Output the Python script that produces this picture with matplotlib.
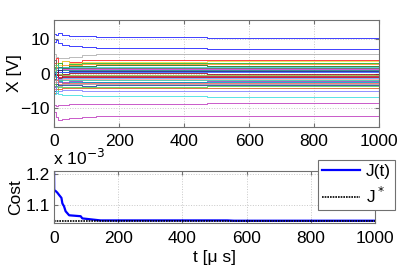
import matplotlib as mpl
mpl.use('Agg')
from matplotlib import pyplot as plt
import numpy as np

plt.rcParams['font.family'] = ['Liberation Sans', 'DejaVu Sans']

#knot times [us] for the state traces, value held until next knot
t_knots = [0, 5, 12, 25, 45, 85, 130, 470, 540, 1000]

#state traces X [V] at each knot (last value repeated at t=1000)
x_traces = [
    [11.5, 11.0, 11.8, 11.2, 10.9, 10.8, 10.5, 10.2, 10.1, 10.1],
    [9.2, 9.6, 8.8, 8.3, 7.8, 7.6, 7.3, 7.2, 7.2, 7.2],
    [5.5, 4.8, 4.5, 4.6, 4.9, 5.2, 5.5, 5.5, 5.5, 5.5],
    [3.0, 4.5, 2.0, 3.5, 3.2, 3.8, 3.9, 3.9, 3.9, 3.9],
    [1.0, 3.0, 2.5, 3.5, 3.0, 3.2, 3.4, 3.5, 3.5, 3.5],
    [2.0, -1.0, 3.0, 1.5, 2.8, 3.0, 3.0, 3.0, 3.0, 3.0],
    [-1.0, 2.0, 1.0, 2.5, 2.5, 2.6, 2.7, 2.7, 2.7, 2.7],
    [0.5, 1.5, -2.0, 2.0, 2.2, 2.3, 2.4, 2.3, 2.3, 2.3],
    [-2.0, 2.5, 1.5, 1.8, 2.0, 2.0, 2.0, 2.0, 2.0, 2.0],
    [4.0, 1.0, 0.5, 1.5, 1.6, 1.7, 1.7, 1.6, 1.6, 1.6],
    [-3.0, 1.5, 0.5, 1.2, 1.3, 1.4, 1.4, 1.3, 1.3, 1.3],
    [1.5, -0.5, 2.0, 1.0, 1.0, 1.1, 1.0, 1.0, 1.0, 1.0],
    [0.0, 0.5, 1.0, 0.5, 0.7, 0.8, 0.8, 0.7, 0.7, 0.7],
    [0.2, -1.0, 0.3, 0.4, 0.4, 0.4, 0.4, 0.4, 0.4, 0.4],
    [-0.5, 0.5, -0.5, 0.0, 0.1, 0.1, 0.1, 0.0, 0.0, 0.0],
    [2.5, -2.0, -0.2, -0.3, -0.3, -0.3, -0.3, -0.3, -0.3, -0.3],
    [-1.5, 0.0, -1.0, -0.6, -0.7, -0.7, -0.7, -0.7, -0.7, -0.7],
    [-4.0, -0.5, -1.2, -1.0, -1.0, -1.0, -1.0, -1.0, -1.0, -1.0],
    [0.8, -2.5, -1.5, -1.3, -1.4, -1.4, -1.4, -1.3, -1.3, -1.3],
    [-2.5, -1.5, -2.0, -1.7, -1.7, -1.7, -1.6, -1.6, -1.6, -1.6],
    [1.2, -3.0, -2.0, -2.0, -2.0, -2.0, -2.0, -1.9, -1.9, -1.9],
    [-3.5, -1.0, -2.5, -2.3, -2.2, -2.3, -2.3, -2.2, -2.2, -2.2],
    [-0.8, -3.5, -2.2, -2.6, -2.5, -2.5, -2.5, -2.5, -2.5, -2.5],
    [-4.5, -2.0, -3.0, -2.8, -2.8, -2.8, -2.8, -2.8, -2.8, -2.8],
    [-2.0, -4.0, -3.5, -3.1, -3.1, -3.1, -3.1, -3.1, -3.1, -3.1],
    [-5.0, -3.0, -3.2, -3.4, -3.4, -3.5, -3.4, -3.4, -3.4, -3.4],
    [-3.0, -5.0, -4.0, -3.8, -3.8, -3.8, -3.8, -3.7, -3.7, -3.7],
    [-5.5, -4.5, -4.5, -4.2, -4.3, -4.3, -4.3, -4.3, -4.3, -4.3],
    [-4.0, -5.5, -5.0, -4.8, -4.8, -4.9, -4.9, -4.9, -4.9, -4.9],
    [-6.0, -5.0, -6.0, -6.2, -6.3, -6.5, -6.6, -6.7, -6.7, -6.7],
    [-9.0, -9.5, -9.2, -9.0, -8.9, -8.8, -8.7, -8.6, -8.6, -8.6],
    [-11.0, -12.5, -13.4, -13.0, -12.8, -12.5, -12.3, -12.2, -12.2, -12.2],
]
x_colors = ['#2020ff', '#2020ff', '#b0b0b0', '#ff2020', '#e8e040', '#20b020',
            '#ff9020', '#207020', '#30d0d0', '#606060', '#d040d0', '#208080',
            '#101090', '#3060ff', '#a01020', '#80c040', '#c01030', '#b00020',
            '#60a0ff', '#ffa0a0', '#40c0a0', '#9040c0', '#00a0c0', '#ff6060',
            '#a0a0a0', '#2040a0', '#50d050', '#e06020', '#8080ff', '#40e0e0',
            '#c040c0', '#c040c0']

#cost J(t) [x 1e-3] knots and optimum J*
t_cost = [0, 0.5, 5, 10, 16, 23, 26, 31, 36, 47, 83, 88, 114, 145, 540, 560, 1000]
j_cost = [1.21, 1.148, 1.145, 1.14, 1.132, 1.123, 1.105, 1.096, 1.080, 1.067,
          1.064, 1.057, 1.054, 1.0505, 1.0505, 1.0495, 1.0495]
j_star = 1.049

fig = plt.figure(figsize=(4.19, 2.70), dpi=100)
fs = 12.5
gridkw = dict(color='#c8c8c8', ls=':', lw=0.7)

def style_axes(ax, pad):
    ax.tick_params(direction='in', top=True, right=True, labelsize=fs,
                   length=3, color='#707070')
    ax.tick_params(axis='x', pad=pad)
    ax.tick_params(axis='y', pad=3)
    for s in ax.spines.values():
        s.set_color('#707070')
        s.set_linewidth(0.8)
    ax.grid(True, **gridkw)

#top: state trajectories
ax1 = fig.add_axes([0.129, 0.531, 0.776, 0.396])
for vals, c in zip(x_traces, x_colors):
    ax1.step(t_knots, vals, where='post', color=c, lw=0.6)
ax1.set_xlim(0, 1000)
ax1.set_ylim(-15.3, 15.5)
ax1.set_xticks([0, 200, 400, 600, 800, 1000])
ax1.set_yticks([-10, 0, 10])
ax1.set_ylabel('X [V]', fontsize=fs, labelpad=-1)
style_axes(ax1, 5.5)

#bottom: cost
ax2 = fig.add_axes([0.129, 0.175, 0.766, 0.193])
ax2.plot(t_cost, j_cost, color='#0000ff', lw=1.6, label='J(t)')
ax2.axhline(j_star, color='black', ls=(0, (1, 0.6)), lw=1.2, label='J$^*$')
ax2.set_xlim(0, 1000)
ax2.set_ylim(1.043, 1.2106)
ax2.set_xticks([0, 200, 400, 600, 800, 1000])
ax2.set_yticks([1.1, 1.2])
ax2.set_ylabel('Cost', fontsize=fs, labelpad=2)
ax2.set_xlabel('t [\u03bc s]', fontsize=fs, labelpad=3)
style_axes(ax2, 6)
fig.text(0.127, 1 - 165 / 270, 'x 10$^{-3}$', fontsize=fs, ha='left',
         va='baseline')
leg = ax2.legend(loc='upper right', bbox_to_anchor=(395 / 419, 1 - 160 / 270),
                 bbox_transform=fig.transFigure, fontsize=fs, fancybox=False,
                 framealpha=1, edgecolor='#707070', handlelength=2.2,
                 borderpad=0.25, labelspacing=0.35, handletextpad=0.3,
                 borderaxespad=0)
leg.get_frame().set_linewidth(0.8)

plt.savefig('out.png', dpi=100)
